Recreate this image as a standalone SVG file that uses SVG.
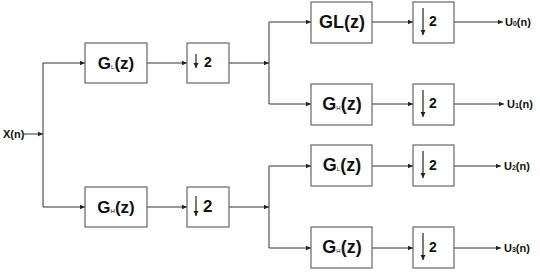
<svg xmlns="http://www.w3.org/2000/svg" width="540" height="273" viewBox="0 0 540 273">
<defs>
<marker id="ah" markerWidth="6" markerHeight="6" refX="5" refY="3" orient="auto" markerUnits="userSpaceOnUse">
<path d="M0,0.8 L5,3 L0,5.2 Z" fill="#222"/>
</marker>
<marker id="dh" markerWidth="6" markerHeight="6" refX="5" refY="3" orient="auto" markerUnits="userSpaceOnUse">
<path d="M0,0.5 L5,3 L0,5.5 Z" fill="#222"/>
</marker>
</defs>
<style>
.box{fill:#fff;stroke:#666;stroke-width:1.2}
.ln{fill:none;stroke:#333;stroke-width:1}
.ar{marker-end:url(#ah)}
.g{font-family:"Liberation Sans",Arial,sans-serif;font-weight:bold;fill:#111;text-anchor:middle}
.sub{font-size:6px;font-weight:normal}
.t{font-family:"Liberation Sans",Arial,sans-serif;font-weight:bold;fill:#111}
.da{stroke:#222;stroke-width:1.2;marker-end:url(#dh)}
</style>
<rect width="540" height="273" fill="#fff"/>
<g id="connectors">
<line class="ln ar" x1="24" y1="134" x2="43" y2="134"/>
<line class="ln" x1="43" y1="63" x2="43" y2="207"/>
<line class="ln ar" x1="43" y1="63" x2="85" y2="63"/>
<line class="ln ar" x1="43" y1="207" x2="85" y2="207"/>
<line class="ln ar" x1="147" y1="63" x2="187" y2="63"/>
<line class="ln ar" x1="147" y1="207" x2="187" y2="207"/>
<line class="ln ar" x1="229" y1="63" x2="269" y2="63"/>
<line class="ln ar" x1="229" y1="207" x2="269" y2="207"/>
<line class="ln" x1="269" y1="22" x2="269" y2="104"/>
<line class="ln" x1="269" y1="166" x2="269" y2="248"/>
<line class="ln ar" x1="269" y1="22" x2="311" y2="22"/>
<line class="ln ar" x1="269" y1="104" x2="311" y2="104"/>
<line class="ln ar" x1="269" y1="166" x2="311" y2="166"/>
<line class="ln ar" x1="269" y1="248" x2="311" y2="248"/>
<line class="ln ar" x1="372" y1="22" x2="413" y2="22"/>
<line class="ln ar" x1="372" y1="104" x2="413" y2="104"/>
<line class="ln ar" x1="372" y1="166" x2="413" y2="166"/>
<line class="ln ar" x1="372" y1="248" x2="413" y2="248"/>
<line class="ln ar" x1="454" y1="22" x2="503" y2="22"/>
<line class="ln ar" x1="454" y1="104" x2="504" y2="104"/>
<line class="ln ar" x1="454" y1="166" x2="501" y2="166"/>
<line class="ln ar" x1="454" y1="248" x2="501" y2="248"/>
</g>
<g id="input"><text class="t" x="3" y="138" font-size="11" font-weight="normal">X(n)</text></g>
<g id="gL1"><rect class="box" x="85" y="43" width="62" height="40"/><text class="g" x="116" y="69" font-size="17">G<tspan class="sub">L</tspan>(z)</text></g>
<g id="gH1"><rect class="box" x="85" y="187" width="62" height="40"/><text class="g" x="116" y="213" font-size="17">G<tspan class="sub">H</tspan>(z)</text></g>
<g id="d1"><rect class="box" x="187" y="43" width="42" height="40"/><line class="da" x1="196" y1="54" x2="196" y2="68"/><text class="t" x="204" y="67" font-size="14">2</text></g>
<g id="d2"><rect class="box" x="187" y="187" width="42" height="40"/><line class="da" x1="196" y1="196" x2="196" y2="216"/><text class="t" x="203" y="212" font-size="17">2</text></g>
<g id="gL2"><rect class="box" x="311" y="2" width="61" height="41"/><text class="g" x="342" y="28" font-size="18">GL(z)</text></g>
<g id="d3"><rect class="box" x="413" y="2" width="41" height="41"/><line class="da" x1="423" y1="8" x2="423" y2="35"/><text class="t" x="429" y="26" font-size="14">2</text></g>
<g id="gH2"><rect class="box" x="311" y="84" width="61" height="41"/><text class="g" x="342" y="110" font-size="18">G<tspan class="sub">H</tspan>(z)</text></g>
<g id="d4"><rect class="box" x="413" y="84" width="41" height="41"/><line class="da" x1="423" y1="90" x2="423" y2="117"/><text class="t" x="429" y="108" font-size="14">2</text></g>
<g id="gL3"><rect class="box" x="311" y="145" width="61" height="41"/><text class="g" x="342" y="171" font-size="18">G<tspan class="sub">L</tspan>(z)</text></g>
<g id="d5"><rect class="box" x="413" y="145" width="41" height="41"/><line class="da" x1="423" y1="151" x2="423" y2="178"/><text class="t" x="429" y="170" font-size="14">2</text></g>
<g id="gH3"><rect class="box" x="311" y="227" width="61" height="41"/><text class="g" x="342" y="253" font-size="18">G<tspan class="sub">H</tspan>(z)</text></g>
<g id="d6"><rect class="box" x="413" y="227" width="41" height="41"/><line class="da" x1="423" y1="233" x2="423" y2="260"/><text class="t" x="429" y="252" font-size="14">2</text></g>
<g id="out0"><text class="t" x="505" y="26" font-size="11">U<tspan font-size="7">0</tspan>(n)</text></g>
<g id="out1"><text class="t" x="507" y="108" font-size="11">U<tspan font-size="7">1</tspan>(n)</text></g>
<g id="out2"><text class="t" x="504" y="170" font-size="11">U<tspan font-size="7">2</tspan>(n)</text></g>
<g id="out3"><text class="t" x="504" y="252" font-size="11">U<tspan font-size="7">3</tspan>(n)</text></g>
</svg>
